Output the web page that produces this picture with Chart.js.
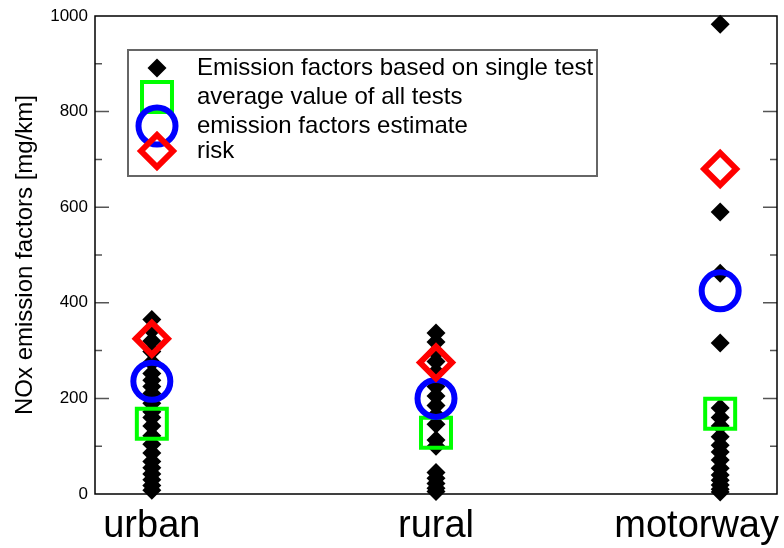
<!DOCTYPE html>
<html>
<head>
<meta charset="utf-8">
<script src="https://cdn.jsdelivr.net/npm/chart.js@4.4.0/dist/chart.umd.min.js"></script>
<style>
  html, body { margin: 0; padding: 0; background: #ffffff; }
  #wrap { width: 784px; height: 548px; }
</style>
</head>
<body>
<div id="wrap"><canvas id="chart" width="784" height="548"></canvas></div>
<script>
// Driving situations on the x axis
const categories = ['urban', 'rural', 'motorway'];
const categoryPositions = [1, 2, 3];

// NOx emission factors from the individual tests [mg/km]
const urbanTests = [365, 343, 320, 298, 275, 252, 238, 225, 210, 190, 172, 160, 142, 122, 104, 86, 68, 55, 42, 30, 18, 8];
const ruralTests = [337, 318, 296, 277, 255, 225, 205, 185, 165, 146, 113, 100, 45, 33, 22, 12, 5];
const motorwayTests = [983, 590, 462, 316, 180, 160, 142, 120, 102, 88, 71, 54, 40, 29, 19, 10, 4];

// Summary values per driving situation [mg/km]
const averageValues = [147, 128, 168];
const estimateValues = [236, 200, 425];
const riskValues = [325, 275, 680];

// Labelled y ticks
const yTickValues = [0, 200, 400, 600, 800, 1000];

const seriesLabels = [
  'Emission factors based on single test',
  'average value of all tests',
  'emission factors estimate',
  'risk'
];

const testsByCategory = [urbanTests, ruralTests, motorwayTests];
const singlePoints = testsByCategory.flatMap((vals, i) =>
  vals.map(v => ({ x: categoryPositions[i], y: v })));
const toPoints = vals => vals.map((v, i) => ({ x: categoryPositions[i], y: v }));

const FONT = "'Liberation Sans', Arial, Helvetica, sans-serif";
Chart.defaults.font.family = FONT;
Chart.defaults.color = '#000000';

function marker(style, radius, border, fill, width, order, label, data) {
  return {
    label, data, order,
    showLine: false,
    clip: false,
    pointStyle: style,
    pointRadius: radius,
    pointHoverRadius: radius,
    pointBorderWidth: width,
    pointHoverBorderWidth: width,
    pointBorderColor: border,
    pointHoverBorderColor: border,
    pointBackgroundColor: fill,
    pointHoverBackgroundColor: fill
  };
}

const datasets = [
  marker('rectRot', 9.5, '#000000', '#000000', 0, 4, seriesLabels[0], singlePoints),
  marker('rect', 21.2, '#00ff00', 'rgba(0,0,0,0)', 4, 3, seriesLabels[1], toPoints(averageValues)),
  marker('circle', 18.5, '#0000ff', 'rgba(0,0,0,0)', 6, 2, seriesLabels[2], toPoints(estimateValues)),
  marker('rectRot', 16, '#ff0000', 'rgba(0,0,0,0)', 6, 1, seriesLabels[3], toPoints(riskValues))
];

// Box around the plot with inward major/minor ticks on both sides
const framePlugin = {
  id: 'frame',
  beforeDatasetsDraw(chart) {
    const { ctx, chartArea: a, scales: { y } } = chart;
    ctx.save();
    ctx.strokeStyle = '#555555';
    ctx.lineWidth = 1.5;
    ctx.beginPath();
    for (let v = y.min + 100; v < y.max; v += 100) {
      const py = y.getPixelForValue(v);
      const len = yTickValues.includes(v) ? 14 : 7;
      ctx.moveTo(a.left, py); ctx.lineTo(a.left + len, py);
      ctx.moveTo(a.right, py); ctx.lineTo(a.right - len, py);
    }
    ctx.stroke();
    ctx.strokeStyle = '#000000';
    ctx.lineWidth = 1.5;
    ctx.strokeRect(a.left, a.top, a.right - a.left, a.bottom - a.top);
    ctx.restore();
  }
};

// Category names under the columns, kept inside the canvas edge
const categoryLabelPlugin = {
  id: 'categoryLabels',
  afterDraw(chart) {
    const { ctx, scales: { x } } = chart;
    ctx.save();
    ctx.font = '38px ' + FONT;
    ctx.fillStyle = '#000000';
    ctx.textBaseline = 'alphabetic';
    ctx.textAlign = 'left';
    categories.forEach((name, i) => {
      const w = ctx.measureText(name).width;
      let left = x.getPixelForValue(categoryPositions[i]) - w / 2;
      left = Math.min(left, chart.width - 5 - w);
      ctx.fillText(name, left, 537);
    });
    ctx.restore();
  }
};

// Framed legend inside the plot
const legendPlugin = {
  id: 'boxLegend',
  afterDraw(chart) {
    const { ctx } = chart;
    const box = { x: 128, y: 50, w: 469, h: 126 };
    const rows = [68, 97, 126, 151];
    const markerX = 157, textX = 197;
    ctx.save();
    ctx.fillStyle = '#ffffff';
    ctx.fillRect(box.x, box.y, box.w, box.h);
    ctx.strokeStyle = '#666666';
    ctx.lineWidth = 2;
    ctx.strokeRect(box.x, box.y, box.w, box.h);
    chart.data.datasets.forEach((ds, i) => {
      ctx.save();
      ctx.fillStyle = ds.pointBackgroundColor;
      ctx.strokeStyle = ds.pointBorderColor;
      ctx.lineWidth = ds.pointBorderWidth;
      Chart.helpers.drawPoint(ctx, {
        pointStyle: ds.pointStyle,
        radius: ds.pointRadius,
        rotation: 0,
        borderWidth: ds.pointBorderWidth
      }, markerX, rows[i]);
      ctx.restore();
      ctx.fillStyle = '#000000';
      ctx.font = '24px ' + FONT;
      ctx.textBaseline = 'middle';
      ctx.textAlign = 'left';
      ctx.fillText(ds.label, textX, rows[i]);
    });
    ctx.restore();
  }
};

new Chart(document.getElementById('chart'), {
  type: 'scatter',
  data: { datasets },
  plugins: [framePlugin, categoryLabelPlugin, legendPlugin],
  options: {
    responsive: false,
    devicePixelRatio: 1,
    animation: false,
    events: [],
    layout: { autoPadding: false, padding: { top: 16, right: 7, left: 0, bottom: 0 } },
    plugins: { legend: { display: false }, tooltip: { enabled: false } },
    scales: {
      x: {
        type: 'linear',
        min: 0.8,
        max: 3.2,
        afterBuildTicks: s => { s.ticks = categoryPositions.map(v => ({ value: v })); },
        afterFit: s => { s.height = 54; s.paddingLeft = 0; s.paddingRight = 0; },
        grid: { display: false, drawTicks: false },
        border: { display: false },
        ticks: { display: false }
      },
      y: {
        min: 0,
        max: 1000,
        afterBuildTicks: s => { s.ticks = yTickValues.map(v => ({ value: v })); },
        afterFit: s => { s.width = 95; s.paddingTop = 0; s.paddingBottom = 0; },
        grid: { display: false, drawTicks: false },
        border: { display: false },
        ticks: { padding: 7, color: '#000000', font: { size: 17 }, callback: v => String(v) },
        title: {
          display: true,
          text: 'NOx emission factors [mg/km]',
          color: '#000000',
          font: { size: 24 },
          padding: { top: 11, bottom: 0 }
        }
      }
    }
  }
});
</script>
</body>
</html>
